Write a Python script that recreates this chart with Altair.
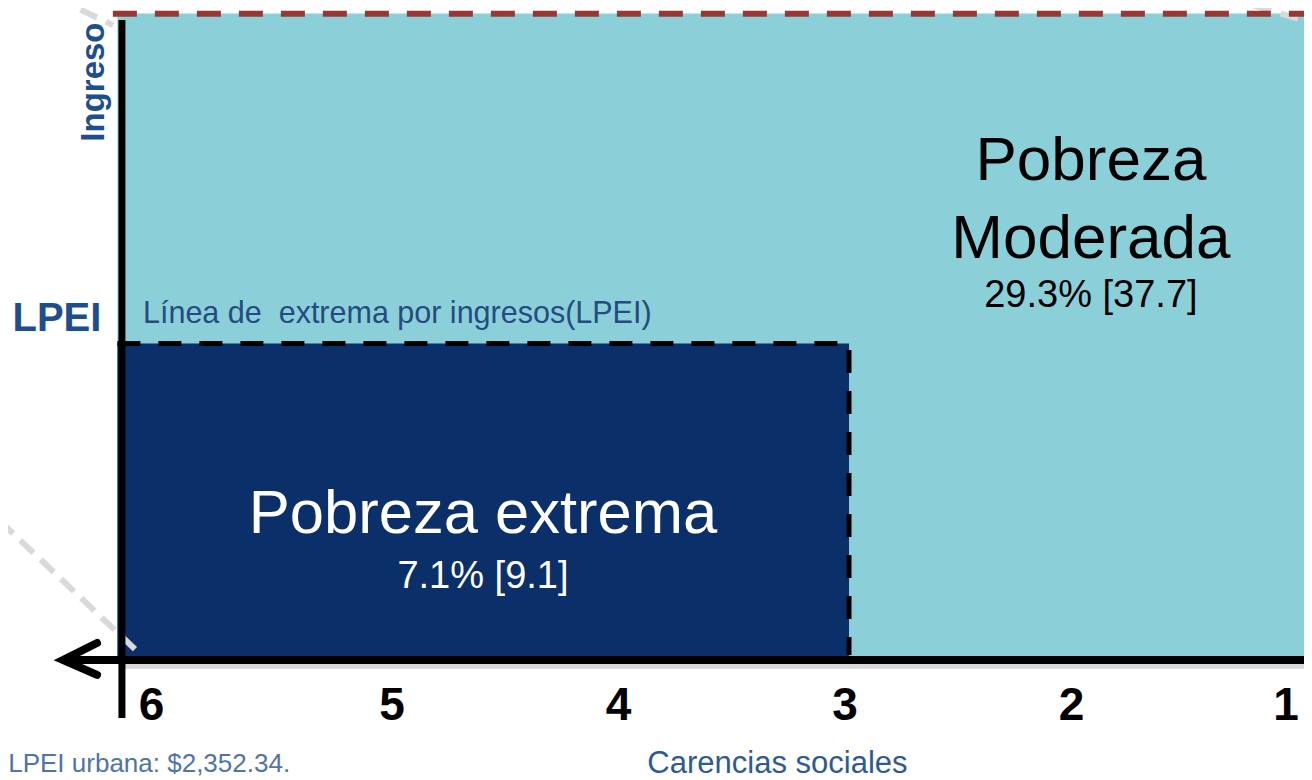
import altair as alt
import pandas as pd

# x: number of social deprivations (carencias sociales), shown reversed (6 on the left)
# y: income level, with the extreme-poverty income line (LPEI) = 1
X_DOMAIN = [0.9912, 6.713]
Y_DOMAIN = [-0.379, 2.060]

# Zones
zone_names = ["Pobreza Moderada", "Pobreza extrema"]
zone_x0 = [6.23, 6.23]
zone_x1 = [0.90, 3.0]
zone_y0 = [0.0, 0.0]
zone_y1 = [2.043, 1.0]

# Zone labels
moderada_lines = ["Pobreza", "Moderada"]
moderada_line_y = [1.517, 1.270]
moderada_x = 1.932
moderada_value = "29.3% [37.7]"
moderada_value_y = 1.115

extrema_title = "Pobreza extrema"
extrema_x = 4.616
extrema_title_y = 0.401
extrema_value = "7.1% [9.1]"
extrema_value_y = 0.2275

# Lines
lpi_x = [6.25, 0.90]
lpi_y = [2.042, 2.042]
lpei_box_x = [6.23, 3.0, 3.0]
lpei_box_y = [1.0, 1.0, 0.016]
yaxis_x = [6.21, 6.21]
yaxis_y = [2.022, -0.183]
xaxis_x = [6.47, 0.90]
xaxis_y = [0.0, 0.0]
arrow_x = [6.32, 6.47, 6.32]
arrow_y = [0.0537, 0.0, -0.047]
shadow_x = [6.20, 0.90]
shadow_y = [-0.020, -0.020]
guide_group = ["a", "a", "b", "b", "c", "c"]
guide_x = [6.616, 6.249, 6.748, 6.139, 1.450, 0.876]
guide_y = [2.13, 2.006, 0.439, 0.0253, 2.117, 1.997]

# Ticks
tick_values = [5, 4, 3, 2]
tick_labels = ["5", "4", "3", "2"]
tick_first = 6
tick_last = 1
tick_y = -0.1896

# Other text
lpei_line_text = "Línea de\u00a0 extrema por ingresos(LPEI)"
lpei_line_x = 6.117
lpei_line_y = 1.065
lpei_label = "LPEI"
lpei_label_x = 6.497
lpei_label_y = 1.039
ingreso_label = "Ingreso"
ingreso_x = 6.289
ingreso_y = 1.826
xtitle = "Carencias sociales"
xtitle_x = 3.316
xtitle_y = -0.357
note = "LPEI urbana: $2,352.34."
note_x = 6.712
note_y = -0.355

FONT = "Liberation Sans"
xs = alt.Scale(domain=X_DOMAIN, reverse=True, nice=False, zero=False)
ys = alt.Scale(domain=Y_DOMAIN, nice=False, zero=False)


def X(f="x"):
    return alt.X(f"{f}:Q", scale=xs, axis=None)


def Y(f="y"):
    return alt.Y(f"{f}:Q", scale=ys, axis=None)


zones = pd.DataFrame({"name": zone_names, "x0": zone_x0, "x1": zone_x1,
                      "y0": zone_y0, "y1": zone_y1})

rect_mod = alt.Chart(zones.iloc[[0]]).mark_rect(color="#8BCFD9").encode(
    x=X("x0"), x2="x1", y=Y("y0"), y2="y1")
rect_ext = alt.Chart(zones.iloc[[1]]).mark_rect(color="#0B2F69").encode(
    x=X("x0"), x2="x1", y=Y("y0"), y2="y1")


def line(xv, yv, group=None, **mark):
    df = pd.DataFrame({"x": xv, "y": yv, "i": list(range(len(xv)))})
    enc = dict(x=X(), y=Y(), order=alt.Order("i:Q"))
    if group is not None:
        df["g"] = group
        enc["detail"] = "g:N"
    return alt.Chart(df).mark_line(**mark).encode(**enc)


guides = line(guide_x, guide_y, group=guide_group, color="#D9D9D9",
              strokeWidth=6, strokeDash=[18, 10])
lpi = line(lpi_x, lpi_y, color="#993833", strokeWidth=6, strokeDash=[24, 18])
box = line(lpei_box_x, lpei_box_y, color="black", strokeWidth=5,
           strokeDash=[23, 18])
shadow = line(shadow_x, shadow_y, color="#C8C8C8", strokeWidth=5, opacity=0.7)
yaxis = line(yaxis_x, yaxis_y, color="black", strokeWidth=7)
xaxis = line(xaxis_x, xaxis_y, color="black", strokeWidth=8)
arrow = line(arrow_x, arrow_y, color="black", strokeWidth=8,
             strokeCap="round", strokeJoin="miter")


def text(tv, xv, yv, **mark):
    df = pd.DataFrame({"t": tv, "x": xv, "y": yv})
    params = dict(font=FONT, baseline="alphabetic", align="center")
    params.update(mark)
    return alt.Chart(df).mark_text(**params).encode(x=X(), y=Y(), text="t:N")


t_mod = text(moderada_lines, [moderada_x] * 2, moderada_line_y,
             fontSize=62, color="black")
t_mod_v = text([moderada_value], [moderada_x], [moderada_value_y],
               fontSize=38, color="black")
t_ext = text([extrema_title], [extrema_x], [extrema_title_y],
             fontSize=61.5, color="white")
t_ext_v = text([extrema_value], [extrema_x], [extrema_value_y],
               fontSize=38, color="white")
t_lpei_line = text([lpei_line_text], [lpei_line_x], [lpei_line_y],
                   fontSize=30.5, color="#244C80", align="left")
t_lpei = text([lpei_label], [lpei_label_x], [lpei_label_y],
              fontSize=40, fontWeight="bold", color="#1F4E8C")
t_ingreso = text([ingreso_label], [ingreso_x], [ingreso_y], angle=270,
                 fontSize=33, fontWeight="bold", color="#1F4E8C")
t_ticks = text(tick_labels, tick_values, [tick_y] * len(tick_values),
               fontSize=46, fontWeight="bold", color="black", dx=-4)
t_tick6 = text([str(tick_first)], [tick_first], [tick_y],
               fontSize=46, fontWeight="bold", color="black", dx=-18)
t_tick1 = text([str(tick_last)], [tick_last], [tick_y],
               fontSize=46, fontWeight="bold", color="black", dx=-16)
t_xtitle = text([xtitle], [xtitle_x], [xtitle_y], fontSize=31,
                color="#2E5A94")
t_note = text([note], [note_x], [note_y], fontSize=26, color="#4F74A8",
              align="left")

chart = alt.layer(
    rect_mod, rect_ext, guides, lpi, box, shadow, xaxis, arrow, yaxis,
    t_mod, t_mod_v, t_ext, t_ext_v, t_lpei_line, t_lpei, t_ingreso,
    t_ticks, t_tick6, t_tick1, t_xtitle, t_note,
).properties(
    width=1296, height=772,
    autosize=alt.AutoSizeParams(type="none"),
    padding=0,
    background="white",
).configure_view(stroke=None)

chart.save("out.html", embed_options={"renderer": "svg", "actions": False})
